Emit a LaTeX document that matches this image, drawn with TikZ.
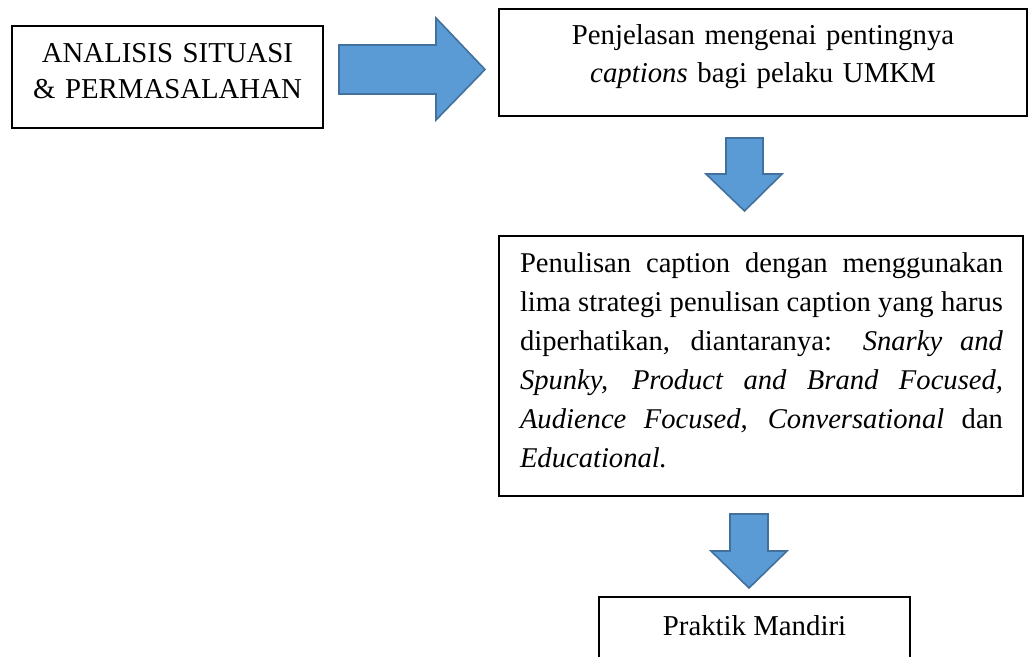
\documentclass[tikz,border=0pt]{standalone}
\usepackage{fontspec}
\setmainfont{Liberation Serif}
\definecolor{arrfill}{HTML}{5B9BD5}
\definecolor{arredge}{HTML}{41719C}
\tikzset{
  frame/.style={draw=black, line width=0.9pt, inner sep=0pt, rectangle},
  txt/.style={inner sep=0pt, anchor=base, align=center},
  blockarrow/.style={fill=arrfill, draw=arredge, line width=0.8pt, line join=miter},
}
\begin{document}
\begin{tikzpicture}[x=0.5pt,y=-0.5pt]
\useasboundingbox (0,0) rectangle (1031,657);
\clip (0,0) rectangle (1031,657);
\fill[white] (0,0) rectangle (1031,657);

% frames
\node[frame, minimum width=155.5pt, minimum height=51pt] (box1) at (167.5,77) {};
\node[frame, minimum width=264pt, minimum height=53.5pt] (box2) at (763,62.5) {};
\node[frame, minimum width=262pt, minimum height=130pt] (box3) at (761,366) {};
\node[frame, minimum width=155.5pt, minimum height=51.5pt] (box4) at (754.5,648.5) {};

% texts
\node[txt, text width=160pt, font=\fontsize{14.4pt}{18pt}\selectfont] (t1) at (167.5,63)
  {ANALISIS SITUASI\\ \& PERMASALAHAN};
\node[txt, text width=250pt, font=\fontsize{14.4pt}{19pt}\selectfont] (t2) at (763,45)
  {Penjelasan mengenai pentingnya\\ \textit{captions} bagi pelaku UMKM};
\node[txt, align=justify, text width=241.5pt, font=\fontsize{14.3pt}{19.5pt}\selectfont] (t3) at (761.5,272)
  {\hyphenpenalty=10000 \tolerance=10000 Penulisan caption dengan menggunakan\linebreak
   lima strategi penulisan caption yang harus\linebreak
   diperhatikan, diantaranya: \textit{Snarky and}\linebreak
   \textit{Spunky, Product and Brand Focused,}\linebreak
   \textit{Audience Focused, Conversational} dan\linebreak
   \textit{Educational.}};
\node[txt, font=\fontsize{14.4pt}{18pt}\selectfont] (t4) at (754.5,635) {Praktik Mandiri};

% block arrows
\draw[blockarrow] (339,45) -- (436,45) -- (436,18) -- (485,69.5) -- (436,120) -- (436,94) -- (339,94) -- cycle;
\draw[blockarrow] (726,138) -- (763,138) -- (763,174) -- (782,174) -- (744.5,211) -- (706,174) -- (726,174) -- cycle;
\draw[blockarrow] (730,514) -- (768,514) -- (768,551) -- (787,551) -- (749,588) -- (711,551) -- (730,551) -- cycle;
\end{tikzpicture}
\end{document}
